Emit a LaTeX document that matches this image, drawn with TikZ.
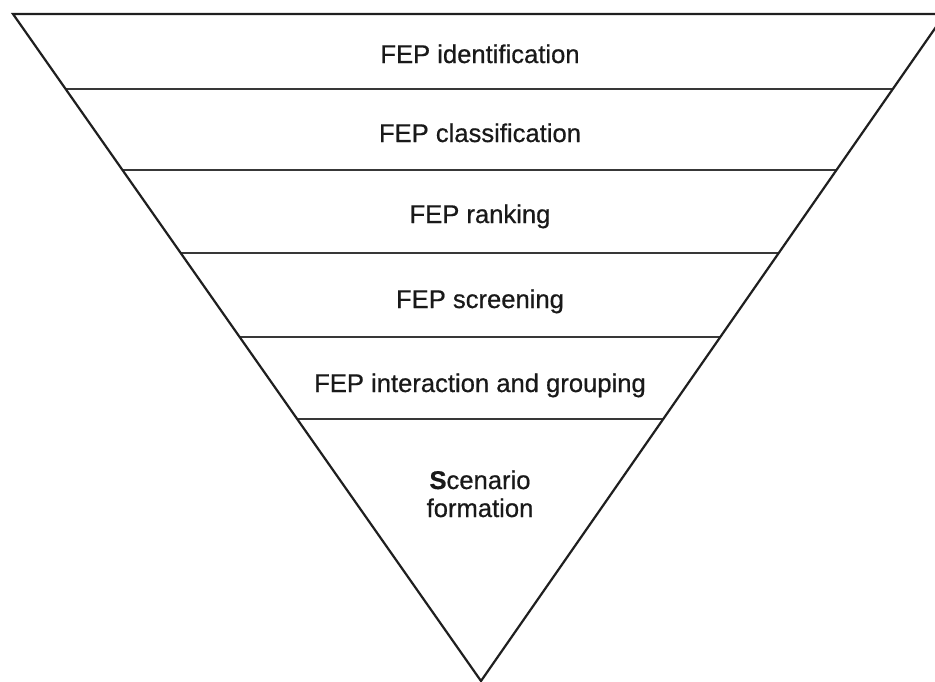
\documentclass[tikz,border=0pt]{standalone}
\usepackage{fontspec}
\setmainfont{Liberation Sans}[FakeBold=0.6]
\usetikzlibrary{calc}
\begin{document}
\begin{tikzpicture}[x=1pt,y=-1pt,
  edge/.style={draw=black!88,line width=2.2pt,line cap=round,line join=miter},
  divider/.style={draw=black!78,line width=2.1pt},
  level/.style={anchor=base,align=center,text=black!90,
    font=\fontsize{25.6}{28}\selectfont}]
  \useasboundingbox (0,0) rectangle (935,681);
  \fill[white] (0,0) rectangle (935,681);
  \clip (0,0) rectangle (935,681);

  % corners of the funnel
  \coordinate (tl) at (13,14);
  \coordinate (tr) at (945,14);
  \coordinate (ap) at (481,681);

  % dividers between the stages, ending on the two slanted sides
  \foreach \n/\t in {1/0.1124,2/0.2339,3/0.3583,4/0.4843,5/0.6072}{
    \coordinate (l\n) at ($(tl)!\t!(ap)$);
    \coordinate (r\n) at ($(tr)!\t!(ap)$);
    \draw[divider] (l\n) -- (r\n);
  }

  % outline
  \draw[edge] (tr) -- (tl) -- (ap) -- (tr);

  % stage labels
  \node[level] (s1) at (480,63) {FEP identification};
  \node[level] (s2) at (480,142) {FEP classification};
  \node[level] (s3) at (480,223) {FEP ranking};
  \node[level] (s4) at (480,308) {FEP screening};
  \node[level] (s5) at (480,392) {FEP interaction and grouping};
  \node[level] (s6a) at (480,489) {\textbf{S}cenario};
  \node[level] (s6b) at (480,517) {formation};
\end{tikzpicture}
\end{document}
